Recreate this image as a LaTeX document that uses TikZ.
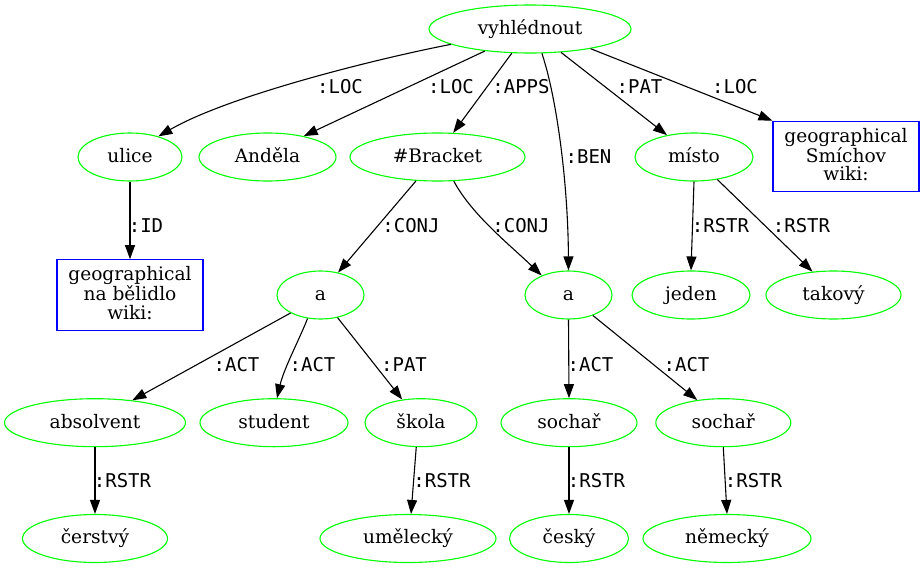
\documentclass[tikz,border=0pt]{standalone}
\usepackage{fontspec}
\setmainfont{DejaVu Serif}
\newfontfamily\lblfont{DejaVu Sans Mono}
\usetikzlibrary{shapes.geometric,arrows.meta}
\definecolor{gvgreen}{RGB}{0,255,0}
\definecolor{gvblue}{RGB}{0,0,255}
\begin{document}
\begin{tikzpicture}[x=1pt,y=-1pt,
  ell/.style={ellipse, draw=gvgreen, line width=1.1pt, inner sep=0pt,
    minimum height=48pt, minimum width=#1,
    font=\fontsize{18.6}{18.3}\selectfont, text height=14pt, text depth=3.4pt},
  gbox/.style={rectangle, draw=gvblue, line width=1.1pt, inner sep=0pt,
    minimum width=146pt, minimum height=70.5pt, align=center,
    font=\fontsize{18.6}{18.3}\selectfont},
  lbl/.style={font=\lblfont\fontsize{19}{19}\selectfont, inner sep=0pt, anchor=base},
  conn/.style={draw=black, line width=1.1pt, -{Triangle[length=14pt,width=10pt]}}]
\useasboundingbox (0,0) rectangle (924,568);
% nodes
\node[ell=202pt] (V) at (530,29) {vyhlédnout};
\node[ell=104pt] (U) at (130,157) {ulice};
\node[ell=137pt] (An) at (267.5,157) {Anděla};
\node[ell=175pt] (B) at (437.5,157) {\#Bracket};
\node[ell=118pt] (M) at (694,157) {místo};
\node[gbox] (S) at (846,156.5) {geographical\\Smíchov\\wiki:\vphantom{g}};
\node[gbox] (G) at (130,295) {geographical\\na bělidlo\\wiki:\vphantom{g}};
\node[ell=87pt] (AL) at (320.5,295) {a};
\node[ell=87pt] (AR) at (568.5,295) {a};
\node[ell=118pt] (J) at (691,295) {jeden};
\node[ell=135pt] (T) at (833.5,295) {takový};
\node[ell=181pt] (Ab) at (95,422.7) {absolvent};
\node[ell=148pt] (St) at (274,422.7) {student};
\node[ell=112pt] (Sk) at (421,422.7) {škola};
\node[ell=136pt] (So1) at (569,422.7) {sochař};
\node[ell=135pt] (So2) at (723.3,422.7) {sochař};
\node[ell=145pt] (C) at (95,538.5) {čerstvý};
\node[ell=176pt] (Um) at (408,538.5) {umělecký};
\node[ell=119pt] (Ce) at (569,538.5) {český};
\node[ell=168pt] (N) at (727,538.5) {německý};
% edges
\draw[conn] (V.191.6) .. controls (380,58) and (230,95) .. (U.36.5);
\draw[conn] (V.206.8) -- (An.30.8);
\draw[conn] (V.233.1) -- (B.57.7);
\draw[conn] (V.-64.3) .. controls (556,95) and (568,180) .. (AR.north);
\draw[conn] (V.-37.8) -- (M.141.3);
\draw[conn] (V.-18.7) -- (S.north west);
\draw[conn] (U.south) -- (G.north);
\draw[conn] (B.228.7) -- (AL.52.4);
\draw[conn] (B.-56) .. controls (472,215) and (510,245) .. (AR.144);
\draw[conn] (M.south) -- (J.north);
\draw[conn] (M.-44.1) -- (T.132.9);
\draw[conn] (AL.211.9) -- (Ab.31);
\draw[conn] (AL.241.5) .. controls (301,336) and (284,368) .. (St.83);
\draw[conn] (AL.-53.2) -- (Sk.129.7);
\draw[conn] (AR.south) -- (So1.north);
\draw[conn] (AR.-40.6) -- (So2.139.2);
\draw[conn] (Ab.south) -- (C.north);
\draw[conn] (Sk.259.8) -- (Um.83.4);
\draw[conn] (So1.south) -- (Ce.north);
\draw[conn] (So2.south) -- (N.north);
% labels
\node[lbl] (l1) at (340,93) {:LOC};
\node[lbl] (l2) at (451,93) {:LOC};
\node[lbl] (l3) at (521,93) {:APPS};
\node[lbl] (l4) at (588.5,163) {:BEN};
\node[lbl] (l5) at (639.5,93) {:PAT};
\node[lbl] (l6) at (735,93) {:LOC};
\node[lbl] (l7) at (146,232) {:ID};
\node[lbl] (l8) at (411,232) {:CONJ};
\node[lbl] (l9) at (521,232) {:CONJ};
\node[lbl] (l10) at (720.5,232) {:RSTR};
\node[lbl] (l11) at (801.5,232) {:RSTR};
\node[lbl] (l12) at (236.5,371) {:ACT};
\node[lbl] (l13) at (312.5,371) {:ACT};
\node[lbl] (l14) at (404,371) {:PAT};
\node[lbl] (l15) at (590.5,371) {:ACT};
\node[lbl] (l16) at (686.5,371) {:ACT};
\node[lbl] (l17) at (122.5,487) {:RSTR};
\node[lbl] (l18) at (442,487) {:RSTR};
\node[lbl] (l19) at (596.5,487) {:RSTR};
\node[lbl] (l20) at (753.5,487) {:RSTR};
\end{tikzpicture}
\end{document}
